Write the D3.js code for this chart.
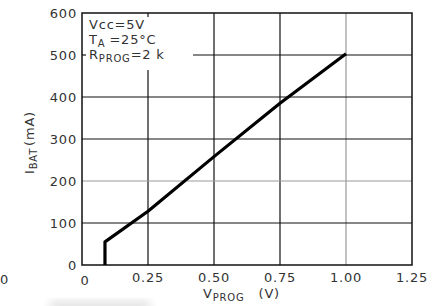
<!DOCTYPE html>
<html>
<head>
<meta charset="utf-8">
<script src="https://cdn.jsdelivr.net/npm/d3@7"></script>
<style>
  body { margin: 0; background: #fff; }
  text { font-family: "DejaVu Sans", sans-serif; fill: #333; letter-spacing: 0.8px; }
</style>
</head>
<body>
<svg></svg>
<script>
// curve points: V_PROG (V) vs I_BAT (mA)
const vProg = [0.087, 0.087, 0.25, 0.5, 0.75, 1.0];
const iBat = [0, 55, 128, 258, 385, 503];
const xTicks = [0, 0.25, 0.5, 0.75, 1.0, 1.25];
const xTickLabels = ['0', '0.25', '0.50', '0.75', '1.00', '1.25'];
const yTicks = [0, 100, 200, 300, 400, 500, 600];
// which grid lines are printed grey instead of black
const greyX = [1.0];
const greyY = [200];

const svgWidth = 442;
const svgHeight = 306;

const svg = d3.select('svg')
    .attr('width', svgWidth)
    .attr('height', svgHeight);

const x = d3.scaleLinear().domain([0, 1.25]).range([82, 412]);
const y = d3.scaleLinear().domain([0, 600]).range([265, 13]);

// faint smudge at bottom of the scan
const defs = svg.append('defs');
defs.append('filter').attr('id', 'blur')
    .append('feGaussianBlur').attr('stdDeviation', 5);
svg.append('rect')
    .attr('x', 50).attr('y', 300).attr('width', 100).attr('height', 14)
    .attr('fill', '#e6e6e6').attr('filter', 'url(#blur)');

const grid = svg.append('g');

// vertical grid
grid.selectAll('.vg')
    .data(xTicks.slice(1, -1))
    .enter().append('line')
    .attr('x1', d => x(d)).attr('x2', d => x(d))
    .attr('y1', d => d === 0.25 ? 70 : y(600))
    .attr('y2', y(0))
    .attr('stroke', d => greyX.includes(d) ? '#999' : '#111')
    .attr('stroke-width', 1.2);

// little top tick at 0.25 over the text box
grid.append('line')
    .attr('x1', x(0.25)).attr('x2', x(0.25))
    .attr('y1', y(600)).attr('y2', y(600) + 4)
    .attr('stroke', '#111').attr('stroke-width', 1.2);

// horizontal grid
grid.selectAll('.hg')
    .data(yTicks.slice(1, -1))
    .enter().append('line')
    .attr('x1', d => d === 500 ? 193 : x(0))
    .attr('x2', x(1.25))
    .attr('y1', d => y(d)).attr('y2', d => y(d))
    .attr('stroke', d => greyY.includes(d) ? '#999' : '#111')
    .attr('stroke-width', 1.2);

// short tick at 500 on the left edge
grid.append('line')
    .attr('x1', x(0)).attr('x2', x(0) + 4)
    .attr('y1', y(500)).attr('y2', y(500))
    .attr('stroke', '#111').attr('stroke-width', 1.2);

// frame
svg.append('rect')
    .attr('x', x(0)).attr('y', y(600))
    .attr('width', x(1.25) - x(0)).attr('height', y(0) - y(600))
    .attr('fill', 'none').attr('stroke', '#111').attr('stroke-width', 1.5);

// curve
const pts = vProg.map((v, i) => [v, iBat[i]]);
svg.append('path')
    .datum(pts)
    .attr('d', d3.line().x(d => x(d[0])).y(d => y(d[1])))
    .attr('fill', 'none')
    .attr('stroke', '#000')
    .attr('stroke-width', 3.2)
    .attr('stroke-linejoin', 'round');

// y tick labels
svg.selectAll('.yl')
    .data(yTicks)
    .enter().append('text')
    .attr('x', 77)
    .attr('y', d => y(d) + 5)
    .attr('text-anchor', 'end')
    .attr('font-size', 13)
    .text(d => d);

// x tick labels
svg.selectAll('.xl')
    .data(xTicks)
    .enter().append('text')
    .attr('x', (d, i) => i === 0 ? x(d) + 3 : x(d))
    .attr('y', (d, i) => i === 0 ? 285 : 282)
    .attr('text-anchor', 'middle')
    .attr('font-size', 13)
    .text((d, i) => xTickLabels[i]);

// stray '0' at left edge of scan
svg.append('text')
    .attr('x', 0).attr('y', 284)
    .attr('font-size', 13)
    .text('0');

// x title
const xt = svg.append('text')
    .attr('x', 203).attr('y', 298)
    .attr('font-size', 13);
xt.append('tspan').text('V');
xt.append('tspan').attr('dy', 3).attr('font-size', 10).text('PROG');
xt.append('tspan').attr('dy', -3).attr('dx', 14).text('(V)');

// y title
const yt = svg.append('text')
    .attr('transform', 'translate(34, 174) rotate(-90)')
    .attr('font-size', 13);
yt.append('tspan').text('I');
yt.append('tspan').attr('dy', 3).attr('font-size', 10).text('BAT');
yt.append('tspan').attr('dy', -3).attr('dx', 2).text('(mA)');

// condition box
const cond = svg.append('g').attr('font-size', 13).style('letter-spacing', '1.5px');
cond.append('text').attr('x', 89).attr('y', 29).text('Vcc=5V');
const ta = cond.append('text').attr('x', 89).attr('y', 44);
ta.append('tspan').text('T');
ta.append('tspan').attr('dy', 3).attr('font-size', 10).text('A');
ta.append('tspan').attr('dy', -3).attr('dx', 4).text('=25°C');
const rp = cond.append('text').attr('x', 89).attr('y', 59);
rp.append('tspan').text('R');
rp.append('tspan').attr('dy', 3).attr('font-size', 10).text('PROG');
rp.append('tspan').attr('dy', -3).text('=2 k');
</script>
</body>
</html>
